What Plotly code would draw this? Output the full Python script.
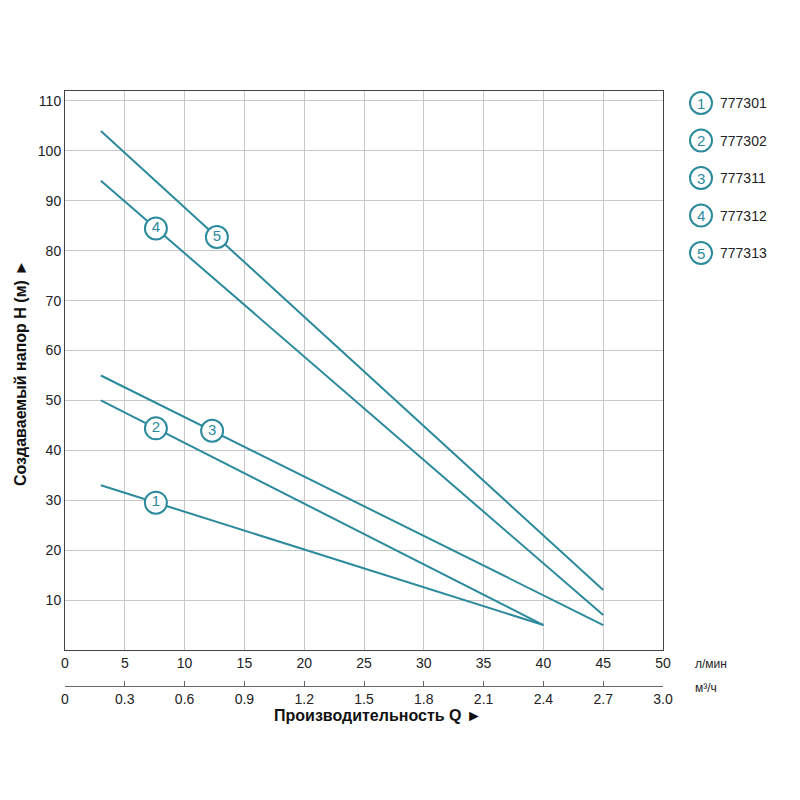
import plotly.graph_objects as go

models = ["777301", "777302", "777311", "777312", "777313"]
q_start = [3, 3, 3, 3, 3]
h_start = [33, 50, 55, 94, 104]
q_end = [40, 40, 45, 45, 45]
h_end = [5, 5, 5, 7, 12]
label_q = [7.6, 7.6, 12.3, 7.6, 12.7]
x_ticks = [0, 5, 10, 15, 20, 25, 30, 35, 40, 45, 50]
m3_ticks = ["0", "0.3", "0.6", "0.9", "1.2", "1.5", "1.8", "2.1", "2.4", "2.7", "3.0"]
y_ticks = [10, 20, 30, 40, 50, 60, 70, 80, 90, 100, 110]

C = "#2b8a9c"
W, H = 800, 800
ml, mr, mt, mb = 57, 145, 83, 80
pw, ph = W - ml - mr, H - mt - mb
def px(x): return (x - ml) / pw
def py(y): return (H - mb - y) / ph

fig = go.Figure()
for i in range(5):
    fig.add_trace(go.Scatter(x=[q_start[i], q_end[i]], y=[h_start[i], h_end[i]], mode="lines",
                             line=dict(color=C, width=2), showlegend=False, hoverinfo="skip"))
    t = (label_q[i] - q_start[i]) / (q_end[i] - q_start[i])
    hy = h_start[i] + t * (h_end[i] - h_start[i])
    fig.add_trace(go.Scatter(x=[label_q[i]], y=[hy], mode="markers+text", text=[str(i + 1)],
                             textposition="middle center",
                             textfont=dict(color=C, size=15, family="Arial"),
                             marker=dict(size=22, color="white", line=dict(color=C, width=2)),
                             showlegend=False, hoverinfo="skip"))
fig.add_trace(go.Scatter(x=[0, 3], y=[None, None], xaxis="x2", showlegend=False))

shapes, annos = [], []
def ann(x, y, text, size, color, xa="center", **kw):
    annos.append(dict(xref="paper", yref="paper", x=px(x), y=py(y), text=text, xanchor=xa,
                      yanchor="middle", showarrow=False,
                      font=dict(color=color, size=size, family="Arial"), **kw))
for i, m in enumerate(models):
    cy = 95 + i * 37.5
    cx, r = 693, 11
    shapes.append(dict(type="circle", xref="paper", yref="paper",
                       x0=px(cx - r), x1=px(cx + r), y0=py(cy + r), y1=py(cy - r),
                       line=dict(color=C, width=2), fillcolor="white"))
    ann(cx, cy, str(i + 1), 15, C)
    ann(710, cy, m, 14, "#222", xa="left")
ann(685, 656, "л/мин", 12, "#222", xa="left")
ann(685, 680, "м³/ч", 12, "#222", xa="left")
ann(370, 707, "<b>Производительность Q ►</b>", 16, "#111")
ann(12, 365, "<b>Создаваемый напор H (м) ►</b>", 16, "#111", textangle=-90)

tf = dict(size=14, family="Arial", color="#222")
fig.update_layout(
    width=W, height=H, margin=dict(l=ml, r=mr, t=mt, b=mb, autoexpand=False),
    plot_bgcolor="white", paper_bgcolor="white",
    shapes=shapes, annotations=annos,
    xaxis=dict(range=[0, 50], tickvals=x_ticks, showgrid=True, gridcolor="#c8c8c8", automargin=False,
               showline=True, linecolor="#444", mirror=True, zeroline=False, tickfont=tf, ticks=""),
    xaxis2=dict(range=[0, 50], overlaying="x", anchor="free", position=py(678), side="bottom",
                automargin=False, tickvals=x_ticks, ticktext=m3_ticks, showline=True, linecolor="#666",
                ticks="inside", ticklen=5, tickcolor="#666", showgrid=False, zeroline=False, tickfont=tf),
    yaxis=dict(range=[0, 112], domain=[py(642), 1], tickvals=y_ticks, showgrid=True, gridcolor="#c8c8c8",
               automargin=False, showline=True, linecolor="#444", mirror=True, zeroline=False, ticks="",
               tickfont=tf),
)
fig.write_html("out.html")
